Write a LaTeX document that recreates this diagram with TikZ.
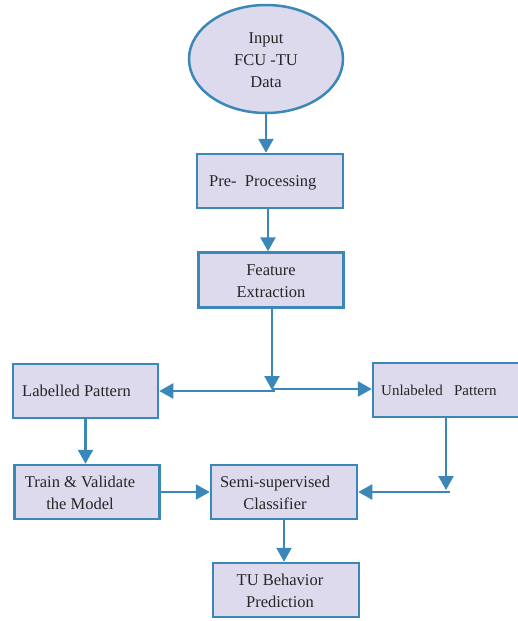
\documentclass[tikz,border=0pt]{standalone}
\usepackage{fontspec}
\setmainfont{Liberation Serif}
\usetikzlibrary{arrows.meta,shapes.geometric}
\definecolor{boxfill}{HTML}{DCDAEC}
\definecolor{boxline}{HTML}{3A87B8}
\tikzset{
  box/.style={draw=boxline, line width=2.5pt, fill=boxfill, inner sep=0pt},
  txt/.style={font=\fontsize{16.5}{22}\selectfont, text=black!85, align=center, inner sep=0pt},
  conn/.style={draw=boxline, line width=2.5pt, -{Triangle[width=15pt,length=14pt]}},
}
\begin{document}
\begin{tikzpicture}[x=1pt,y=-1pt]
\useasboundingbox (0,0) rectangle (518,621);
% ellipse
\node[box, ellipse, minimum width=154, minimum height=108] (inp) at (266,59) {};
\node[txt] (inpt) at (266,60) {Input\\FCU -TU\\Data};
% boxes
\node[box, minimum width=146, minimum height=54] (pre) at (270,181) {};
\node[txt, anchor=west] (pret) at (209,183) {Pre-\ \ Processing};
\node[box, minimum width=145, minimum height=55] (fea) at (271,280) {};
\node[txt] (feat) at (271,281) {Feature\\Extraction};
\node[box, minimum width=145, minimum height=54] (lab) at (85.5,391) {};
\node[txt, anchor=west] (labt) at (22,391) {Labelled Pattern};
\node[box, minimum width=150, minimum height=54] (unl) at (448,390) {};
\node[txt, anchor=west, font=\fontsize{15}{20}\selectfont] (unlt) at (381,390) {Unlabeled \ \ Pattern};
\node[box, minimum width=145, minimum height=54] (trn) at (87,492) {};
\node[txt] (trnt) at (80,493) {Train \& Validate\\the Model};
\node[box, minimum width=146, minimum height=54] (semi) at (284,492) {};
\node[txt] (semit) at (275,493) {Semi-supervised\\Classifier};
\node[box, minimum width=146, minimum height=54] (tu) at (286,590) {};
\node[txt] (tut) at (280,591) {TU Behavior\\Prediction};
% junctions
\coordinate (c1) at (268,0);
\coordinate (j1) at (272,390);
\coordinate (j1l) at (275,391);
\coordinate (j1r) at (272,389);
\coordinate (j2) at (446,490);
\coordinate (j2h) at (450,492);
% connectors
\draw[conn] (inp.south) -- (pre.north -| inp.south);
\draw[conn] (pre.south -| c1) -- (fea.north -| c1);
\draw[conn] (fea.south -| j1) -- (j1);
\draw[conn] (j1l) -- (lab.east |- j1l);
\draw[conn] (j1r) -- (unl.west |- j1r);
\draw[conn] (lab.south) -- (trn.north -| lab.south);
\draw[conn] (unl.south -| j2) -- (j2);
\draw[conn] (j2h) -- (semi.east |- j2h);
\draw[conn] (trn.east) -- (semi.west);
\draw[conn] (semi.south) -- (tu.north -| semi.south);
\end{tikzpicture}
\end{document}
